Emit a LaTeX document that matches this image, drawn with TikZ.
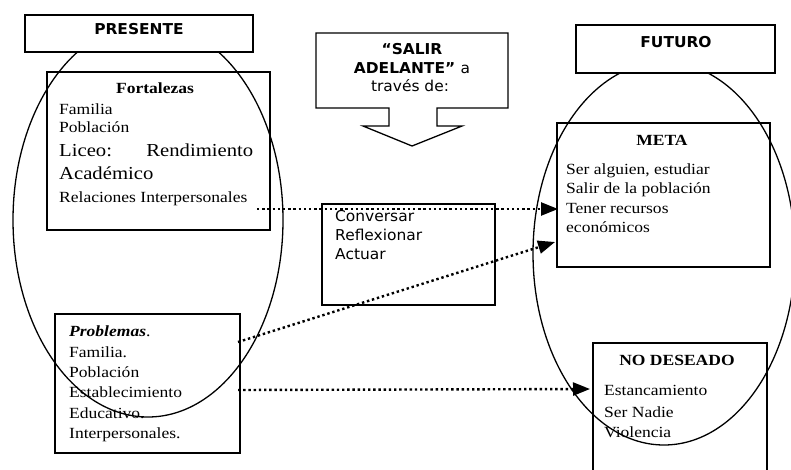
\documentclass[tikz,border=0pt]{standalone}
\usepackage{fontspec}
\setmainfont{Liberation Serif}[FakeStretch=1.13]
\setsansfont{DejaVu Sans}[FakeStretch=1.03]
\usetikzlibrary{arrows.meta,shapes.geometric}
\begin{document}
\begin{tikzpicture}[x=1pt,y=-1pt,
  box/.style={draw, line width=1.3pt, inner sep=0pt},
  hdr/.style={box, fill=white},
  oval/.style={draw, ellipse, line width=1.3pt, inner sep=0pt},
  ser/.style={anchor=base west, inner sep=0pt, font=\fontsize{15.5}{17}\selectfont},
  serbig/.style={anchor=base west, inner sep=0pt, font=\fontsize{18.3}{20}\selectfont},
  sertitle/.style={anchor=base, inner sep=0pt, font=\bfseries\fontsize{15.5}{17}\selectfont},
  sans/.style={anchor=base west, inner sep=0pt, font=\sffamily\fontsize{15}{17}\selectfont},
  sanstitle/.style={anchor=base, inner sep=0pt, font=\sffamily\bfseries\fontsize{15}{17}\selectfont},
  dotarrow/.style={line width=2.4pt, dash pattern=on 2.4pt off 2.8pt,
    -{Triangle[length=17pt,width=13pt]}}
]
\useasboundingbox (0,0) rectangle (791,470);
\clip (0,0) rectangle (791,470);

% content boxes
\node[box, minimum width=223pt, minimum height=158pt] (fort) at (158.5,151) {};
\node[box, minimum width=185pt, minimum height=139pt] (prob) at (147.5,383.5) {};
\node[box, minimum width=173pt, minimum height=101pt] (conv) at (408.5,254.5) {};
\node[box, minimum width=213pt, minimum height=144pt] (meta) at (663.5,195) {};
\node[box, minimum width=174pt, minimum height=140pt] (nod) at (680,413) {};

% ellipses
\node[oval, minimum width=270pt, minimum height=394pt] (elL) at (148,220) {};
\node[oval, minimum width=262pt, minimum height=383pt] (elR) at (664,253.5) {};

% header boxes
\node[hdr, minimum width=228pt, minimum height=37pt] (pres) at (139,33.5) {};
\node[hdr, minimum width=199pt, minimum height=48pt] (fut) at (675.5,49) {};
\node[sanstitle] (prest) at (139,34.5) {PRESENTE};
\node[sanstitle] (futt) at (676,47.5) {FUTURO};

% callout
\draw[line width=1.3pt, fill=white] (316,33) -- (508,33) -- (508,108) -- (437,108)
  -- (437,126) -- (462,126) -- (412,146) -- (363,126) -- (389,126) -- (389,108)
  -- (316,108) -- cycle;
\node[sanstitle] (s1) at (412,55) {“SALIR};
\node[sanstitle] (s2) at (412,74) {ADELANTE” \mdseries a};
\node[sanstitle, font=\sffamily\fontsize{15}{17}\selectfont] (s3) at (410,92) {través de:};

% Fortalezas
\node[sertitle] (ft) at (155,94) {Fortalezas};
\node[ser] (f1) at (59,115) {Familia};
\node[ser] (f2) at (59,133) {Población};
\node[serbig] (f3) at (59,157) {\hbox to 194pt{Liceo:\hfill Rendimiento}};
\node[serbig] (f4) at (59,180) {Académico};
\node[ser] (f5) at (59,203) {Relaciones Interpersonales};

% Problemas
\node[ser] (p0) at (69,336) {\textbf{\textit{Problemas}}.};
\node[ser] (p1) at (69,357) {Familia.};
\node[ser] (p2) at (69,377) {Población};
\node[ser] (p3) at (69,397) {Establecimiento};
\node[ser] (p4) at (69,418) {Educativo.};
\node[ser] (p5) at (69,438) {Interpersonales.};

% Conversar
\node[sans] (c1) at (335,221) {Conversar};
\node[sans] (c2) at (335,240) {Reflexionar};
\node[sans] (c3) at (335,259) {Actuar};

% META
\node[sertitle] (mt) at (662,146) {META};
\node[ser] (m1) at (566,175) {Ser alguien, estudiar};
\node[ser] (m2) at (566,194) {Salir de la población};
\node[ser] (m3) at (566,213) {Tener recursos};
\node[ser] (m4) at (566,232) {económicos};

% NO DESEADO
\node[sertitle] (nt) at (677,365) {NO DESEADO};
\node[ser] (n1) at (604,395) {Estancamiento};
\node[ser] (n2) at (604,417) {Ser Nadie};
\node[ser] (n3) at (604,437) {Violencia};

% arrows
\coordinate (a1s) at (257,209);
\coordinate (a1e) at (558,209);
\coordinate (a2s) at (238,342);
\coordinate (a2e) at (555,242);
\coordinate (a3s) at (238,390);
\coordinate (a3e) at (590,389);
\draw[dotarrow] (a1s) -- (a1e);
\draw[dotarrow] (a2s) -- (a2e);
\draw[dotarrow] (a3s) -- (a3e);
\end{tikzpicture}
\end{document}
